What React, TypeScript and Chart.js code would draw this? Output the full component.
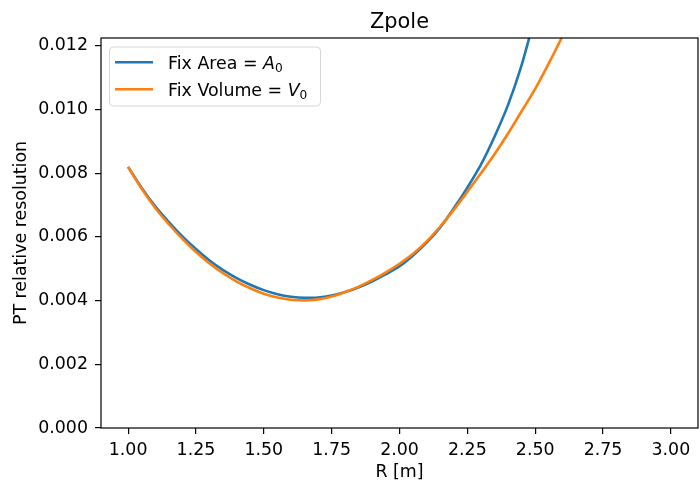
import React, { useEffect, useRef } from "react";
import { Chart, registerables } from "chart.js";

Chart.register(...registerables);

// ---- data ----
const rValues = [
  1.0, 1.05, 1.1, 1.15, 1.2, 1.25, 1.3, 1.35, 1.4, 1.45, 1.5, 1.55, 1.6, 1.65,
  1.7, 1.75, 1.8, 1.85, 1.9, 1.95, 2.0, 2.05, 2.1, 2.15, 2.2, 2.25, 2.3, 2.35,
  2.4, 2.45, 2.5, 2.55, 2.6, 2.65,
];
const fixAreaValues = [
  0.0082, 0.00754, 0.00696, 0.00647, 0.00602, 0.00562, 0.00526, 0.00496,
  0.00471, 0.0045, 0.00433, 0.0042, 0.00412, 0.00409, 0.0041, 0.00416,
  0.00427, 0.00442, 0.00461, 0.00483, 0.00508, 0.00542, 0.00582, 0.0063,
  0.0069, 0.00755, 0.00827, 0.00915, 0.01015, 0.0114, 0.01295,
];
const fixVolumeValues = [
  0.0082, 0.00751, 0.00691, 0.0064, 0.00594, 0.00553, 0.00517, 0.00486,
  0.0046, 0.00439, 0.00422, 0.0041, 0.00403, 0.00401, 0.00404, 0.00413,
  0.00427, 0.00444, 0.00465, 0.00489, 0.00516, 0.00547, 0.00586, 0.00633,
  0.00685, 0.00742, 0.008, 0.0086, 0.00925, 0.00995, 0.01065, 0.01145,
  0.0123, 0.0132,
];
const xTickValues = [1.0, 1.25, 1.5, 1.75, 2.0, 2.25, 2.5, 2.75, 3.0];
const yTickValues = [0, 0.002, 0.004, 0.006, 0.008, 0.01, 0.012];
const titleText = "Zpole";
const xAxisLabel = "R [m]";
const yAxisLabel = "PT relative resolution";
const legendMain = ["Fix Area = ", "Fix Volume = "];
const legendSymbol = ["A", "V"];
const legendSub = ["0", "0"];
const seriesColors = ["#1f77b4", "#ff7f0e"];

const FAMILY = '"DejaVu Sans", sans-serif';
const FS = 17.4;

const framePlugin = {
  id: "mplFrame",
  afterDraw(chart: any) {
    const { ctx, chartArea: a } = chart;
    ctx.save();
    // spines
    ctx.strokeStyle = "#000";
    ctx.lineWidth = 1.2;
    ctx.strokeRect(a.left, a.top, a.right - a.left, a.bottom - a.top);
    // title
    ctx.fillStyle = "#000";
    ctx.font = `20.9px ${FAMILY}`;
    ctx.textAlign = "center";
    ctx.textBaseline = "alphabetic";
    ctx.fillText(titleText, (a.left + a.right) / 2, a.top - 10.4);
    // legend
    const bx = a.left + 8.5;
    const by = a.top + 9;
    const bw = 211;
    const bh = 59;
    const r = 4;
    ctx.beginPath();
    ctx.moveTo(bx + r, by);
    ctx.lineTo(bx + bw - r, by);
    ctx.arcTo(bx + bw, by, bx + bw, by + r, r);
    ctx.lineTo(bx + bw, by + bh - r);
    ctx.arcTo(bx + bw, by + bh, bx + bw - r, by + bh, r);
    ctx.lineTo(bx + r, by + bh);
    ctx.arcTo(bx, by + bh, bx, by + bh - r, r);
    ctx.lineTo(bx, by + r);
    ctx.arcTo(bx, by, bx + r, by, r);
    ctx.closePath();
    ctx.fillStyle = "rgba(255,255,255,0.8)";
    ctx.fill();
    ctx.strokeStyle = "rgba(204,204,204,0.8)";
    ctx.lineWidth = 1;
    ctx.stroke();
    chart.data.datasets.forEach((ds: any, i: number) => {
      const y = a.top + 24.3 + i * 27;
      ctx.strokeStyle = ds.borderColor;
      ctx.lineWidth = 2.6;
      ctx.beginPath();
      ctx.moveTo(a.left + 14, y);
      ctx.lineTo(a.left + 52, y);
      ctx.stroke();
      ctx.fillStyle = "#000";
      ctx.textAlign = "left";
      ctx.textBaseline = "alphabetic";
      let x = a.left + 67;
      const base = y + 7;
      ctx.font = `${FS}px ${FAMILY}`;
      ctx.fillText(legendMain[i], x, base);
      x += ctx.measureText(legendMain[i]).width;
      ctx.font = `italic ${FS}px ${FAMILY}`;
      ctx.fillText(legendSymbol[i], x, base);
      x += ctx.measureText(legendSymbol[i]).width;
      ctx.font = `${FS * 0.7}px ${FAMILY}`;
      ctx.fillText(legendSub[i], x, base + 2.6);
    });
    ctx.restore();
  },
};

export default function App() {
  const ref = useRef<HTMLCanvasElement | null>(null);
  useEffect(() => {
    if (!ref.current) return;
    const chart = new Chart(ref.current, {
      type: "line",
      data: {
        datasets: [
          {
            label: legendMain[0] + legendSymbol[0] + legendSub[0],
            data: fixAreaValues.map((v, i) => ({ x: rValues[i], y: v })),
            borderColor: seriesColors[0],
            backgroundColor: seriesColors[0],
            borderWidth: 2.6,
            pointRadius: 0,
            fill: false,
            cubicInterpolationMode: "monotone",
            clip: 0,
            order: 1,
          },
          {
            label: legendMain[1] + legendSymbol[1] + legendSub[1],
            data: fixVolumeValues.map((v, i) => ({ x: rValues[i], y: v })),
            borderColor: seriesColors[1],
            backgroundColor: seriesColors[1],
            borderWidth: 2.6,
            pointRadius: 0,
            fill: false,
            cubicInterpolationMode: "monotone",
            clip: 0,
            order: 0,
          },
        ],
      },
      options: {
        animation: false,
        responsive: false,
        devicePixelRatio: 1,
        layout: { padding: { left: 0, right: 2, top: 38, bottom: 0 } },
        plugins: {
          legend: { display: false },
          title: { display: false },
          tooltip: { enabled: false },
        },
        scales: {
          x: {
            type: "linear",
            min: 0.9,
            max: 3.1,
            afterBuildTicks: (s: any) => {
              s.ticks = xTickValues.map((v) => ({ value: v }));
            },
            afterFit: (s: any) => {
              s.height = 53;
            },
            grid: {
              drawOnChartArea: false,
              drawTicks: true,
              tickLength: 6,
              color: "#000",
              lineWidth: 1.2,
            },
            border: { display: false },
            ticks: {
              color: "#000",
              font: { family: FAMILY, size: FS },
              padding: 6,
              maxRotation: 0,
              autoSkip: false,
              callback: (v: any) => Number(v).toFixed(2),
            },
            title: {
              display: true,
              text: xAxisLabel,
              color: "#000",
              font: { family: FAMILY, size: FS },
              padding: { top: 0, bottom: -2 },
            },
          },
          y: {
            type: "linear",
            min: 0,
            max: 0.01225,
            afterBuildTicks: (s: any) => {
              s.ticks = yTickValues.map((v) => ({ value: v }));
            },
            afterFit: (s: any) => {
              s.width = 101;
            },
            grid: {
              drawOnChartArea: false,
              drawTicks: true,
              tickLength: 6,
              color: "#000",
              lineWidth: 1.2,
            },
            border: { display: false },
            ticks: {
              color: "#000",
              font: { family: FAMILY, size: FS },
              padding: 7,
              autoSkip: false,
              callback: (v: any) => Number(v).toFixed(3),
            },
            title: {
              display: true,
              text: yAxisLabel,
              color: "#000",
              font: { family: FAMILY, size: FS },
              padding: { top: 11, bottom: 0 },
            },
          },
        },
      },
      plugins: [framePlugin],
    } as any);
    return () => chart.destroy();
  }, []);
  return (
    <div
      style={{
        position: "fixed",
        left: 0,
        top: 0,
        width: 700,
        height: 481,
        background: "#fff",
      }}
    >
      <canvas ref={ref} width={700} height={481} style={{ width: 700, height: 481 }} />
    </div>
  );
}
